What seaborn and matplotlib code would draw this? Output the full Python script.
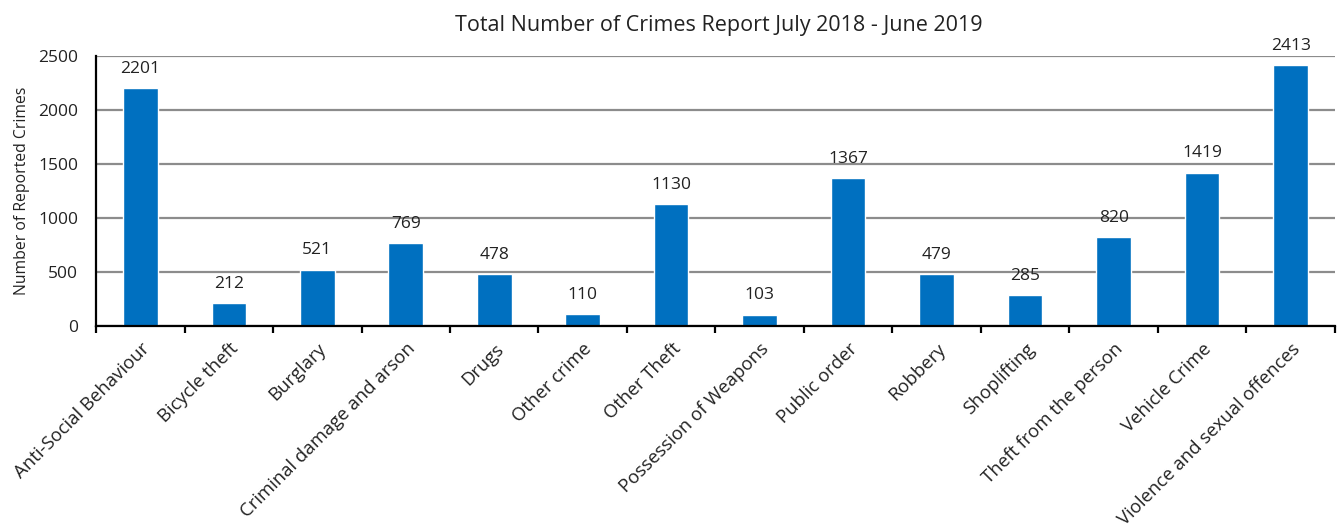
import matplotlib
matplotlib.use("Agg")
import matplotlib.pyplot as plt
import seaborn as sns
import pandas as pd
import numpy as np

categories = [
    "Anti-Social Behaviour", "Bicycle theft", "Burglary", "Criminal damage and arson",
    "Drugs", "Other crime", "Other Theft", "Possession of Weapons", "Public order",
    "Robbery", "Shoplifting", "Theft from the person", "Vehicle Crime",
    "Violence and sexual offences",
]
counts = [2201, 212, 521, 769, 478, 110, 1130, 103, 1367, 479, 285, 820, 1419, 2413]
y_ticks = [0, 500, 1000, 1500, 2000, 2500]

df = pd.DataFrame({"Crime type": categories, "Reported": counts})

sns.set_theme(style="white")
plt.rcParams["font.family"] = ["Open Sans", "DejaVu Sans"]

fig = plt.figure(figsize=(13.43, 5.24), dpi=100)
ax = fig.add_axes([0.0715, 0.378, 0.9225, 0.515])

sns.barplot(data=df, x="Crime type", y="Reported", color="#0070C0",
            saturation=1, width=0.39, ax=ax)

ax.set_ylim(0, 2500)
ax.set_xlim(-0.5, len(categories) - 0.5)
ax.set_yticks(y_ticks)
ax.set_yticklabels([str(t) for t in y_ticks], fontsize=12.5, color="#222222")
ax.yaxis.grid(True, color="#8c8c8c", linewidth=1.6)
ax.set_axisbelow(True)

for side in ["top", "right"]:
    ax.spines[side].set_visible(False)
for side in ["left", "bottom"]:
    ax.spines[side].set_color("black")
    ax.spines[side].set_linewidth(1.6)

# category labels at bar centres, tick marks at category boundaries
ax.set_xticks(range(len(categories)))
ax.set_xticklabels(categories, rotation=45, ha="right", rotation_mode="anchor",
                   fontsize=13.3, color="#222222")
ax.tick_params(axis="x", which="major", length=0, pad=10)
ax.set_xticks(np.arange(-0.5, len(categories), 1.0), minor=True)
ax.tick_params(axis="x", which="minor", bottom=True, length=5, width=1.6,
               color="black", direction="out")
ax.tick_params(axis="y", left=False, pad=7)

for i, v in enumerate(counts):
    ax.text(i, v + 105, str(v), ha="center", va="bottom", fontsize=12.5,
            color="#222222")

ax.set_xlabel("")
ax.set_ylabel("Number of Reported Crimes", fontsize=11.3, color="#222222", labelpad=6)
fig.text(0.535, 0.952, "Total Number of Crimes Report July 2018 - June 2019",
         ha="center", va="center", fontsize=15.5, color="#222222")

fig.savefig("out.png", dpi=100)
